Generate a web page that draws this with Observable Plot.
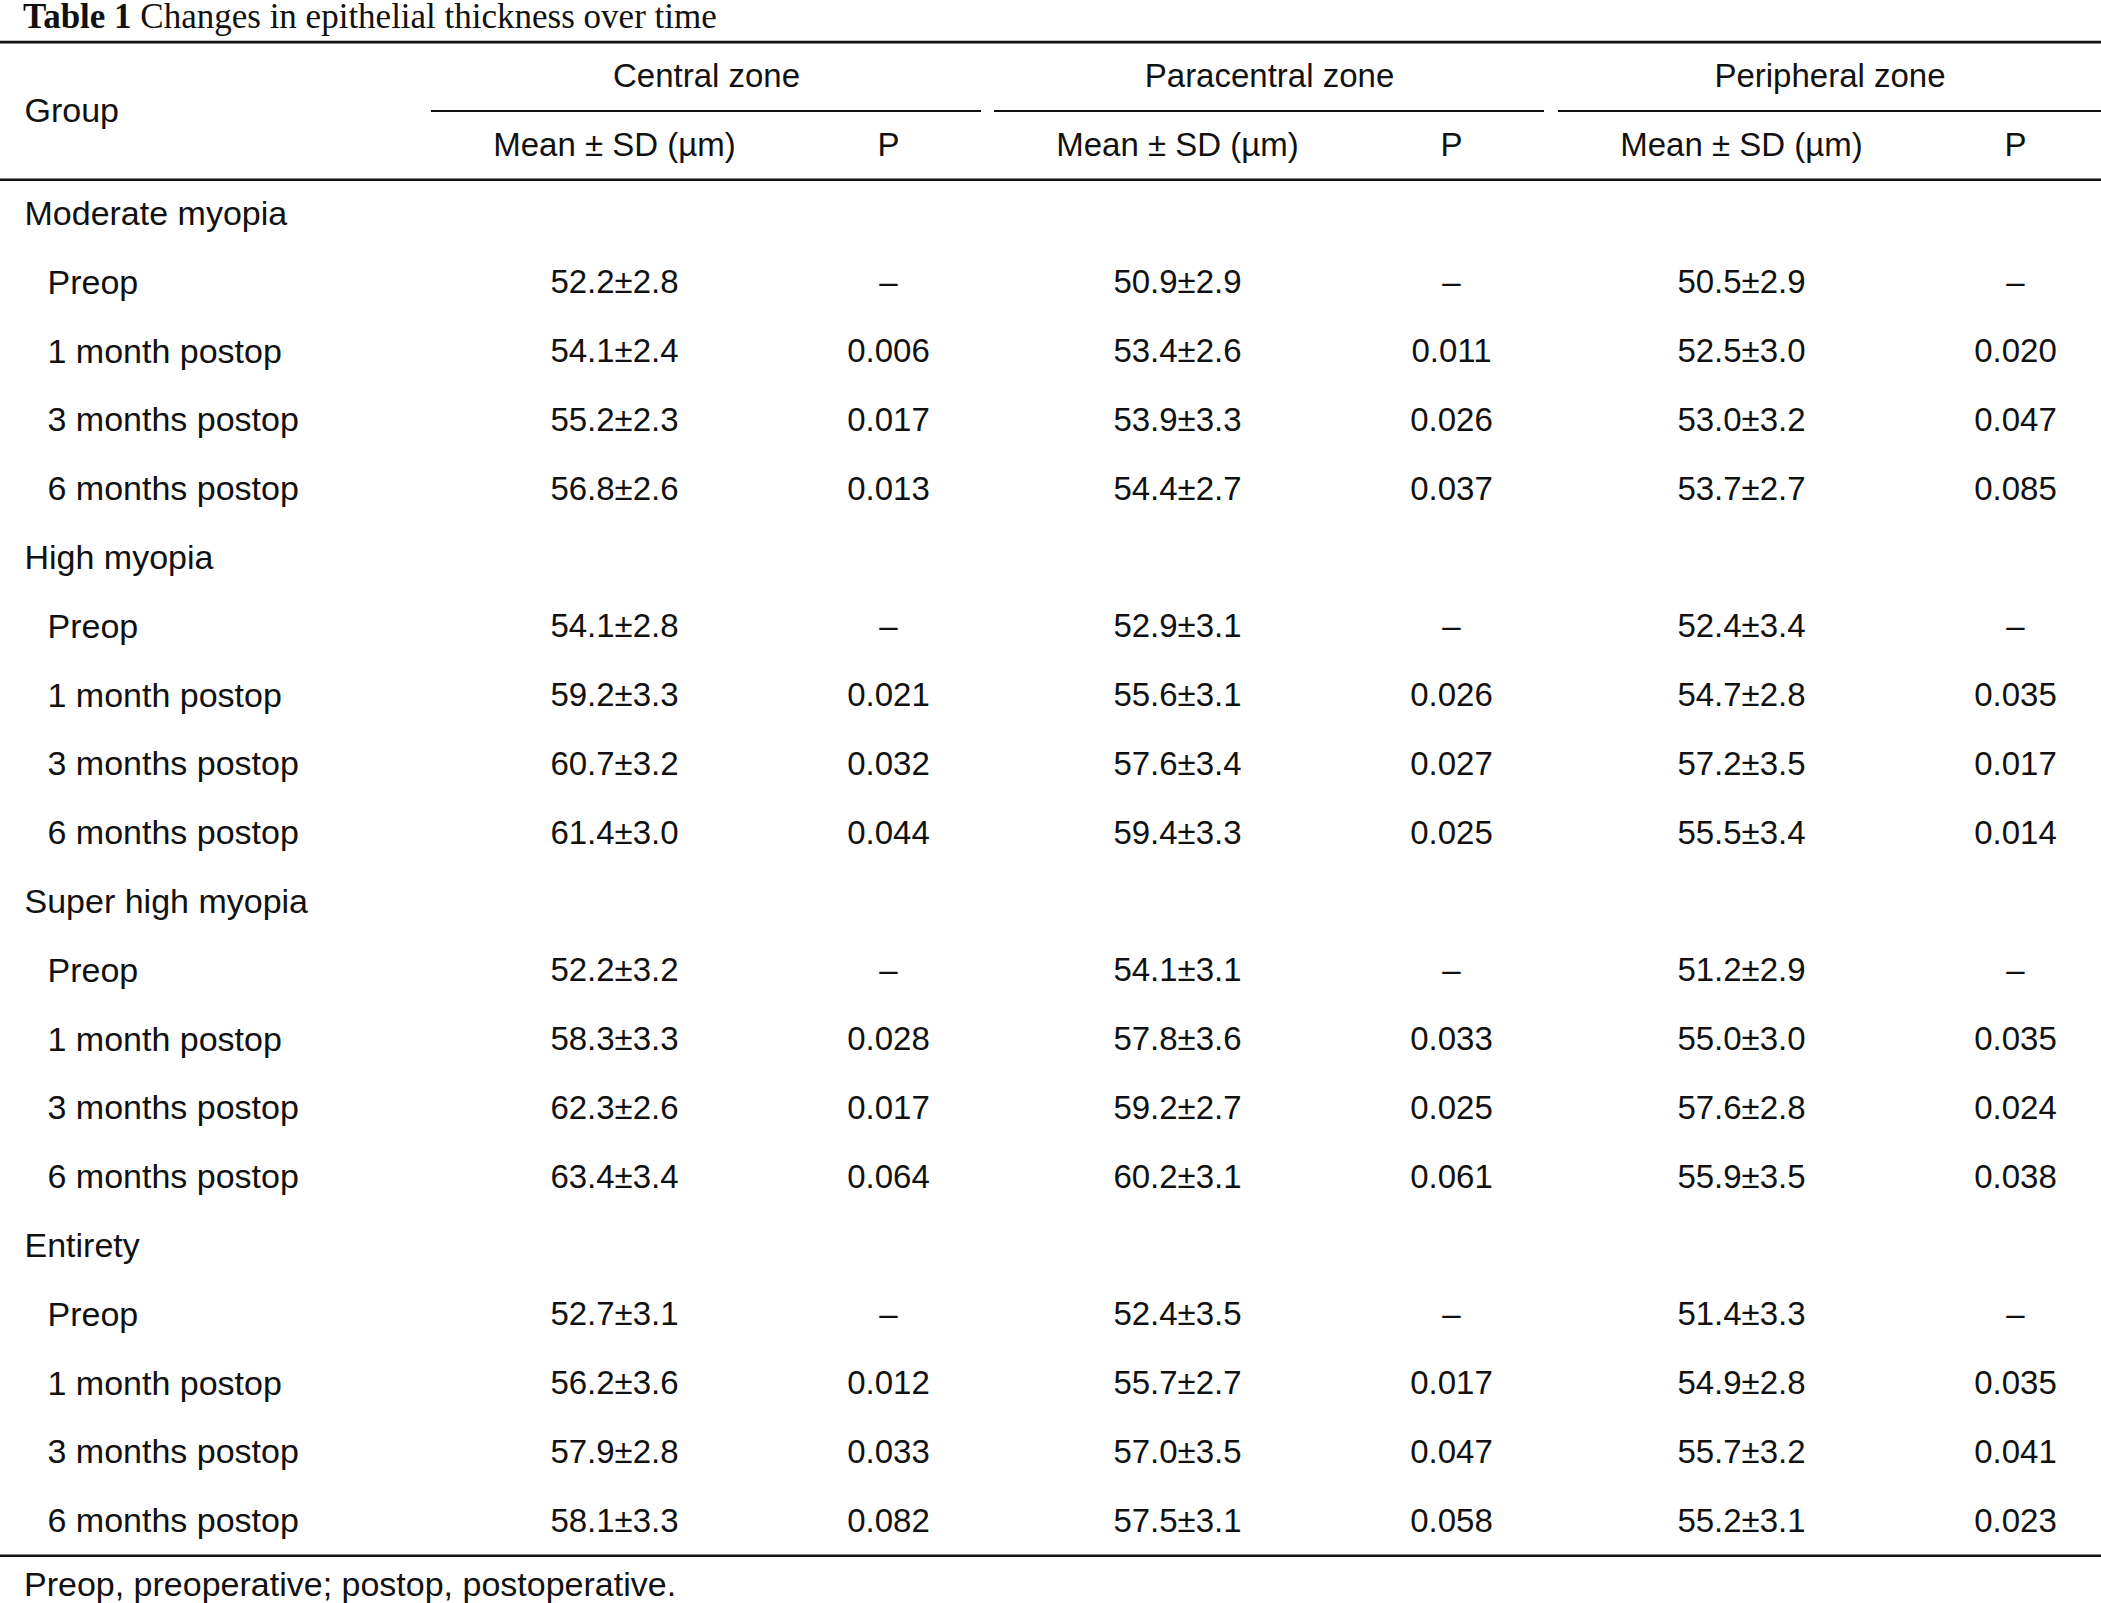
<!DOCTYPE html>
<html><head><meta charset="utf-8">
<script src="https://cdn.jsdelivr.net/npm/d3@7"></script>
<script src="https://cdn.jsdelivr.net/npm/@observablehq/plot@0.6"></script>
<style>
html,body{margin:0;padding:0;background:#fff;width:2101px;height:1603px;overflow:hidden}
#title{height:36px;font-family:"Liberation Serif",serif;font-size:35px;line-height:34px;padding-left:23px;white-space:nowrap;color:#111;overflow:visible}
#foot{height:37px;font-family:"Liberation Sans",sans-serif;font-size:34px;line-height:37px;padding-left:24px;white-space:nowrap;color:#111}
#chart svg{display:block}
</style></head><body>
<div id="title"><b>Table 1</b> Changes in epithelial thickness over time</div>
<div id="chart"></div>
<div id="foot">Preop, preoperative; postop, postoperative.</div>
<script>
// ---- data ----
const groups = ["Moderate myopia", "High myopia", "Super high myopia", "Entirety"];
const timepoints = ["Preop", "1 month postop", "3 months postop", "6 months postop"];
const zones = ["Central zone", "Paracentral zone", "Peripheral zone"];
const subHeaders = ["Mean ± SD (µm)", "P"];
const rowHeader = "Group";

const centralMean = [52.2, 54.1, 55.2, 56.8, 54.1, 59.2, 60.7, 61.4, 52.2, 58.3, 62.3, 63.4, 52.7, 56.2, 57.9, 58.1];
const centralSD   = [2.8, 2.4, 2.3, 2.6, 2.8, 3.3, 3.2, 3.0, 3.2, 3.3, 2.6, 3.4, 3.1, 3.6, 2.8, 3.3];
const centralP    = [null, 0.006, 0.017, 0.013, null, 0.021, 0.032, 0.044, null, 0.028, 0.017, 0.064, null, 0.012, 0.033, 0.082];

const paraMean = [50.9, 53.4, 53.9, 54.4, 52.9, 55.6, 57.6, 59.4, 54.1, 57.8, 59.2, 60.2, 52.4, 55.7, 57.0, 57.5];
const paraSD   = [2.9, 2.6, 3.3, 2.7, 3.1, 3.1, 3.4, 3.3, 3.1, 3.6, 2.7, 3.1, 3.5, 2.7, 3.5, 3.1];
const paraP    = [null, 0.011, 0.026, 0.037, null, 0.026, 0.027, 0.025, null, 0.033, 0.025, 0.061, null, 0.017, 0.047, 0.058];

const periMean = [50.5, 52.5, 53.0, 53.7, 52.4, 54.7, 57.2, 55.5, 51.2, 55.0, 57.6, 55.9, 51.4, 54.9, 55.7, 55.2];
const periSD   = [2.9, 3.0, 3.2, 2.7, 3.4, 2.8, 3.5, 3.4, 2.9, 3.0, 2.8, 3.5, 3.3, 2.8, 3.2, 3.1];
const periP    = [null, 0.020, 0.047, 0.085, null, 0.035, 0.017, 0.014, null, 0.035, 0.024, 0.038, null, 0.035, 0.041, 0.023];

// ---- layout (table units) ----
const W = 2101;
const NROWS = 22;                 // 2 header rows + 20 body rows
const zoneLeft = [431, 994, 1558];
const zoneSpan = 550;
const meanOff = 183, pOff = 457;
const groupX = 24, subX = 47;

const means = [centralMean, paraMean, periMean];
const sds = [centralSD, paraSD, periSD];
const ps = [centralP, paraP, periP];

const spanRules = zoneLeft.map(x0 => ({x1: x0, x2: Math.min(x0 + zoneSpan, W), y: 1}));

const leftTexts = [{x: groupX, y: 1, text: rowHeader}];
const midTexts = [];
zones.forEach((z, k) => {
  midTexts.push({x: (spanRules[k].x1 + spanRules[k].x2) / 2, y: 0.5, text: z});
  midTexts.push({x: zoneLeft[k] + meanOff, y: 1.5, text: subHeaders[0]});
  midTexts.push({x: zoneLeft[k] + pOff, y: 1.5, text: subHeaders[1]});
});
let r = 2;
groups.forEach((g, gi) => {
  leftTexts.push({x: groupX, y: r + 0.5, text: g});
  r++;
  timepoints.forEach((t, ti) => {
    const i = gi * timepoints.length + ti;
    leftTexts.push({x: subX, y: r + 0.5, text: t});
    zones.forEach((z, k) => {
      midTexts.push({x: zoneLeft[k] + meanOff, y: r + 0.5, text: `${means[k][i].toFixed(1)}±${sds[k][i].toFixed(1)}`});
      midTexts.push({x: zoneLeft[k] + pOff, y: r + 0.5, text: ps[k][i] == null ? "–" : ps[k][i].toFixed(3)});
    });
    r++;
  });
});

const fullRules = [{y: 0, w: 2.6}, {y: 2, w: 2.4}, {y: NROWS, w: 2.6}];

const chart = Plot.plot({
  width: W,
  height: 1530,
  margin: 0,
  x: {domain: [0, W], range: [0, W], axis: null},
  y: {domain: [0, NROWS], range: [5.6, 1519.2], axis: null},
  style: {fontFamily: "'Liberation Sans', Arial, sans-serif", background: "#fff", color: "#111"},
  marks: [
    Plot.ruleY(fullRules, {y: "y", x1: 0, x2: W, strokeWidth: d => d.w, stroke: "#111"}),
    Plot.ruleY(spanRules, {y: "y", x1: "x1", x2: "x2", strokeWidth: 2, stroke: "#111"}),
    Plot.text(leftTexts, {x: "x", y: "y", text: "text", textAnchor: "start", lineAnchor: "middle", fontSize: 34, fill: "#111"}),
    Plot.text(midTexts, {x: "x", y: "y", text: "text", textAnchor: "middle", lineAnchor: "middle", fontSize: 33, fill: "#111"})
  ]
});
document.getElementById("chart").appendChild(chart);
</script>
</body></html>
